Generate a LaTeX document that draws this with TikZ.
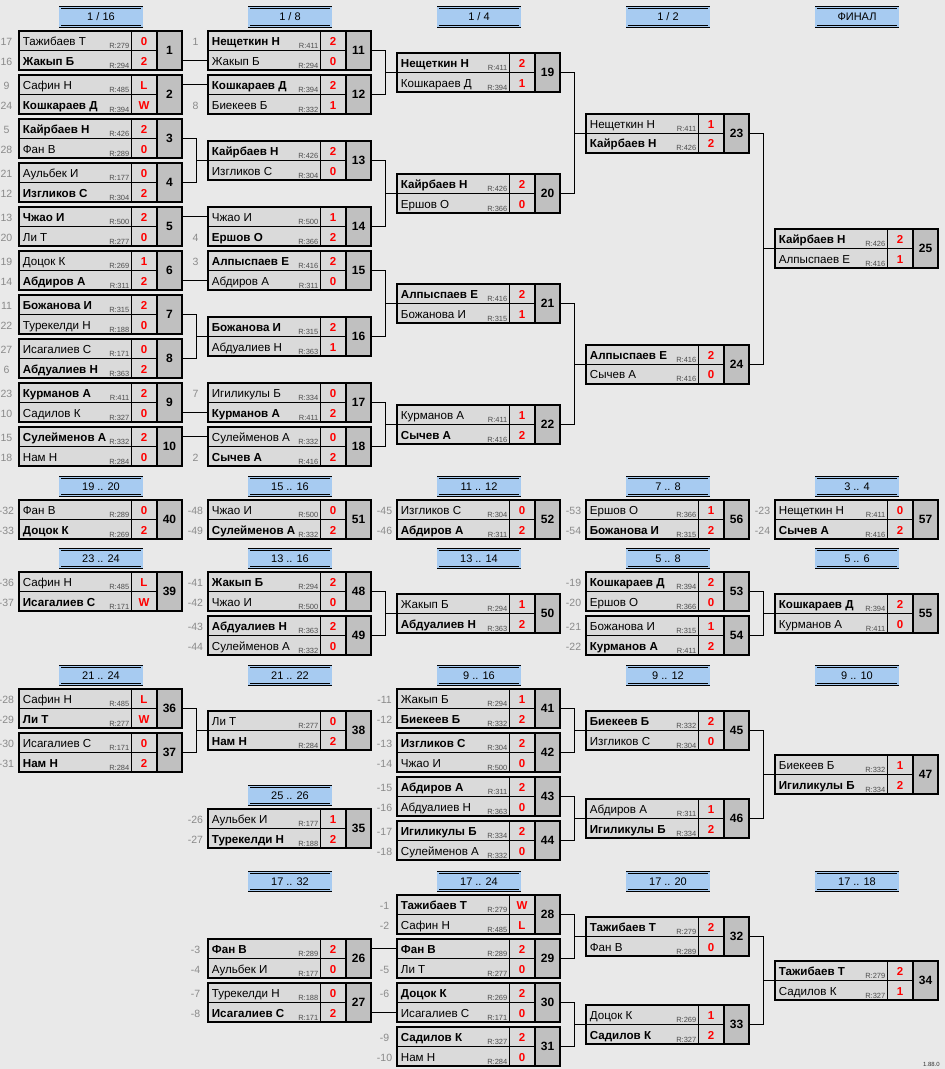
\documentclass[tikz,border=0pt]{standalone}
\usepackage{fontspec}
\setmainfont{Liberation Sans}
\usepackage{tikz}

\definecolor{pagebg}{HTML}{E9E9E9}
\definecolor{cellgray}{HTML}{DADADA}
\definecolor{numgray}{HTML}{C0C0C0}
\definecolor{stageblue}{HTML}{A7CBF1}
\definecolor{scorered}{HTML}{FF0000}
\definecolor{seedgray}{HTML}{8A8A8A}
\definecolor{ratinggray}{HTML}{4D4D4D}

\newcommand{\cellrow}[6]{%
  \pgfmathsetmacro{\rowbase}{19.5*#2-4.6}
  \coordinate (m#1c#2) at (0,{19.5*#2-9.75});
  \if\relax\detokenize{#3}\relax\else
    \node[seednum] (m#1d#2) at (-12.5,\rowbase) {#3};
  \fi
  \node[pname] (m#1p#2) at (3.7,\rowbase) {#4};
  \node[rating] (m#1r#2) at (110.5,{19.5*#2-2}) {R:#5};
  \node[score] (m#1s#2) at (125,\rowbase) {#6};
}
\def\splitplayer#1#2#3/#4/#5/#6\endsplit{\cellrow{#1}{#2}{#3}{#4}{#5}{#6}}

\newcommand{\duel}[5]{%
  \begin{scope}[shift={({19+189*(#2-1)},#3)}]
    \fill[cellgray] (0,0) rectangle (138,39);
    \fill[numgray] (138,0) rectangle (163,39);
    \draw[line width=0.9pt] (0,19.5) -- (138,19.5) (112,0) -- (112,39);
    \draw[line width=2pt] (138,0) -- (138,39);
    \splitplayer{#1}{1}#4\endsplit
    \splitplayer{#1}{2}#5\endsplit
    \node[matchnum] (m#1n) at (150.5,19.5) {#1};
    \node[duelbox] (m#1) at (81.5,19.5) {};
  \end{scope}
}

\newcommand{\bracketjoin}[3]{%
  \draw[link] (m#1.east) -- ++(13,0) coordinate (k#3) |- (m#2.east);
  \draw[link] (k#3 |- m#3.west) -- (m#3.west);
}
\newcommand{\feedline}[3]{%
  \draw[link] (m#1.east |- m#2c#3) -- (m#2.west |- m#2c#3);
}

\begin{document}
\begin{tikzpicture}[x=1pt, y=-1pt,
    duelbox/.style={draw, line width=2pt, minimum width=163pt, minimum height=39pt, inner sep=0pt},
    pname/.style={anchor=base west, inner sep=0pt, font=\fontsize{11.6}{12}\selectfont},
    rating/.style={anchor=base east, inner sep=0pt, text=ratinggray, font=\fontsize{7.5}{8}\selectfont},
    score/.style={anchor=base, inner sep=0pt, text=scorered, font=\bfseries\fontsize{11.5}{12}\selectfont},
    seednum/.style={anchor=base, inner sep=0pt, text=seedgray, font=\fontsize{10.5}{12}\selectfont},
    matchnum/.style={inner sep=0pt, font=\bfseries\fontsize{12}{13}\selectfont},
    stage/.style={draw=black, line width=0.7pt, double=stageblue, double distance=1.2pt, fill=stageblue,
        minimum width=82pt, minimum height=18.5pt, inner sep=0pt, font=\fontsize{11}{12}\selectfont},
    link/.style={line width=0.9pt}
  ]
  \useasboundingbox (0,0) rectangle (945,1069);
  \fill[pagebg] (0,0) rectangle (945,1069);

  \foreach \c/\yy/\txt [count=\i] in {1/17/{1 / 16}, 2/17/{1 / 8}, 3/17/{1 / 4}, 4/17/{1 / 2}, 5/17/{ФИНАЛ},
      1/486.5/{19 .. 20}, 2/486.5/{15 .. 16}, 3/486.5/{11 .. 12}, 4/486.5/{7 .. 8}, 5/486.5/{3 .. 4},
      1/558.5/{23 .. 24}, 2/558.5/{13 .. 16}, 3/558.5/{13 .. 14}, 4/558.5/{5 .. 8}, 5/558.5/{5 .. 6},
      1/675.5/{21 .. 24}, 2/675.5/{21 .. 22}, 3/675.5/{9 .. 16}, 4/675.5/{9 .. 12}, 5/675.5/{9 .. 10},
      2/795.5/{25 .. 26},
      2/881.5/{17 .. 32}, 3/881.5/{17 .. 24}, 4/881.5/{17 .. 20}, 5/881.5/{17 .. 18}}
    \node[stage] (st\i) at ({19+189*(\c-1)+82},\yy) {\txt};

  \duel{1}{1}{31}{17/Тажибаев Т/279/0}{16/\textbf{Жакып Б}/294/2}
  \duel{2}{1}{75}{9/Сафин Н/485/L}{24/\textbf{Кошкараев Д}/394/W}
  \duel{3}{1}{119}{5/\textbf{Кайрбаев Н}/426/2}{28/Фан В/289/0}
  \duel{4}{1}{163}{21/Аульбек И/177/0}{12/\textbf{Изгликов С}/304/2}
  \duel{5}{1}{207}{13/\textbf{Чжао И}/500/2}{20/Ли Т/277/0}
  \duel{6}{1}{251}{19/Доцок К/269/1}{14/\textbf{Абдиров А}/311/2}
  \duel{7}{1}{295}{11/\textbf{Божанова И}/315/2}{22/Турекелди Н/188/0}
  \duel{8}{1}{339}{27/Исагалиев С/171/0}{6/\textbf{Абдуалиев Н}/363/2}
  \duel{9}{1}{383}{23/\textbf{Курманов А}/411/2}{10/Садилов К/327/0}
  \duel{10}{1}{427}{15/\textbf{Сулейменов А}/332/2}{18/Нам Н/284/0}

  \duel{11}{2}{31}{1/\textbf{Нещеткин Н}/411/2}{/Жакып Б/294/0}
  \duel{12}{2}{75}{/\textbf{Кошкараев Д}/394/2}{8/Биекеев Б/332/1}
  \duel{13}{2}{141}{/\textbf{Кайрбаев Н}/426/2}{/Изгликов С/304/0}
  \duel{14}{2}{207}{/Чжао И/500/1}{4/\textbf{Ершов О}/366/2}
  \duel{15}{2}{251}{3/\textbf{Алпыспаев Е}/416/2}{/Абдиров А/311/0}
  \duel{16}{2}{317}{/\textbf{Божанова И}/315/2}{/Абдуалиев Н/363/1}
  \duel{17}{2}{383}{7/Игиликулы Б/334/0}{/\textbf{Курманов А}/411/2}
  \duel{18}{2}{427}{/Сулейменов А/332/0}{2/\textbf{Сычев А}/416/2}

  \duel{19}{3}{53}{/\textbf{Нещеткин Н}/411/2}{/Кошкараев Д/394/1}
  \duel{20}{3}{174}{/\textbf{Кайрбаев Н}/426/2}{/Ершов О/366/0}
  \duel{21}{3}{284}{/\textbf{Алпыспаев Е}/416/2}{/Божанова И/315/1}
  \duel{22}{3}{405}{/Курманов А/411/1}{/\textbf{Сычев А}/416/2}
  \duel{23}{4}{113.5}{/Нещеткин Н/411/1}{/\textbf{Кайрбаев Н}/426/2}
  \duel{24}{4}{344.5}{/\textbf{Алпыспаев Е}/416/2}{/Сычев А/416/0}
  \duel{25}{5}{229}{/\textbf{Кайрбаев Н}/426/2}{/Алпыспаев Е/416/1}

  \duel{40}{1}{500}{-32/Фан В/289/0}{-33/\textbf{Доцок К}/269/2}
  \duel{51}{2}{500}{-48/Чжао И/500/0}{-49/\textbf{Сулейменов А}/332/2}
  \duel{52}{3}{500}{-45/Изгликов С/304/0}{-46/\textbf{Абдиров А}/311/2}
  \duel{56}{4}{500}{-53/Ершов О/366/1}{-54/\textbf{Божанова И}/315/2}
  \duel{57}{5}{500}{-23/Нещеткин Н/411/0}{-24/\textbf{Сычев А}/416/2}

  \duel{39}{1}{572}{-36/Сафин Н/485/L}{-37/\textbf{Исагалиев С}/171/W}
  \duel{48}{2}{572}{-41/\textbf{Жакып Б}/294/2}{-42/Чжао И/500/0}
  \duel{49}{2}{616}{-43/\textbf{Абдуалиев Н}/363/2}{-44/Сулейменов А/332/0}
  \duel{50}{3}{594}{/Жакып Б/294/1}{/\textbf{Абдуалиев Н}/363/2}
  \duel{53}{4}{572}{-19/\textbf{Кошкараев Д}/394/2}{-20/Ершов О/366/0}
  \duel{54}{4}{616}{-21/Божанова И/315/1}{-22/\textbf{Курманов А}/411/2}
  \duel{55}{5}{594}{/\textbf{Кошкараев Д}/394/2}{/Курманов А/411/0}

  \duel{36}{1}{689}{-28/Сафин Н/485/L}{-29/\textbf{Ли Т}/277/W}
  \duel{37}{1}{733}{-30/Исагалиев С/171/0}{-31/\textbf{Нам Н}/284/2}
  \duel{38}{2}{711}{/Ли Т/277/0}{/\textbf{Нам Н}/284/2}
  \duel{41}{3}{689}{-11/Жакып Б/294/1}{-12/\textbf{Биекеев Б}/332/2}
  \duel{42}{3}{733}{-13/\textbf{Изгликов С}/304/2}{-14/Чжао И/500/0}
  \duel{43}{3}{777}{-15/\textbf{Абдиров А}/311/2}{-16/Абдуалиев Н/363/0}
  \duel{44}{3}{821}{-17/\textbf{Игиликулы Б}/334/2}{-18/Сулейменов А/332/0}
  \duel{45}{4}{711}{/\textbf{Биекеев Б}/332/2}{/Изгликов С/304/0}
  \duel{46}{4}{799}{/Абдиров А/311/1}{/\textbf{Игиликулы Б}/334/2}
  \duel{47}{5}{755}{/Биекеев Б/332/1}{/\textbf{Игиликулы Б}/334/2}
  \duel{35}{2}{809}{-26/Аульбек И/177/1}{-27/\textbf{Турекелди Н}/188/2}

  \duel{28}{3}{895}{-1/\textbf{Тажибаев Т}/279/W}{-2/Сафин Н/485/L}
  \duel{29}{3}{939}{/\textbf{Фан В}/289/2}{-5/Ли Т/277/0}
  \duel{30}{3}{983}{-6/\textbf{Доцок К}/269/2}{/Исагалиев С/171/0}
  \duel{31}{3}{1027}{-9/\textbf{Садилов К}/327/2}{-10/Нам Н/284/0}
  \duel{26}{2}{939}{-3/\textbf{Фан В}/289/2}{-4/Аульбек И/177/0}
  \duel{27}{2}{983}{-7/Турекелди Н/188/0}{-8/\textbf{Исагалиев С}/171/2}
  \duel{32}{4}{917}{/\textbf{Тажибаев Т}/279/2}{/Фан В/289/0}
  \duel{33}{4}{1005}{/Доцок К/269/1}{/\textbf{Садилов К}/327/2}
  \duel{34}{5}{961}{/\textbf{Тажибаев Т}/279/2}{/Садилов К/327/1}

  \feedline{1}{11}{2}
  \feedline{2}{12}{1}
  \bracketjoin{3}{4}{13}
  \feedline{5}{14}{1}
  \feedline{6}{15}{2}
  \bracketjoin{7}{8}{16}
  \feedline{9}{17}{2}
  \feedline{10}{18}{1}
  \bracketjoin{11}{12}{19}
  \bracketjoin{13}{14}{20}
  \bracketjoin{15}{16}{21}
  \bracketjoin{17}{18}{22}
  \bracketjoin{19}{20}{23}
  \bracketjoin{21}{22}{24}
  \bracketjoin{23}{24}{25}

  \bracketjoin{48}{49}{50}
  \bracketjoin{53}{54}{55}

  \bracketjoin{36}{37}{38}
  \bracketjoin{41}{42}{45}
  \bracketjoin{43}{44}{46}
  \bracketjoin{45}{46}{47}

  \feedline{26}{29}{1}
  \feedline{27}{30}{2}
  \bracketjoin{28}{29}{32}
  \bracketjoin{30}{31}{33}
  \bracketjoin{32}{33}{34}

  \node[anchor=base east, inner sep=0pt, text=black!80, font=\fontsize{6}{7}\selectfont] (ver) at (940,1066) {1.88.0};
\end{tikzpicture}
\end{document}
